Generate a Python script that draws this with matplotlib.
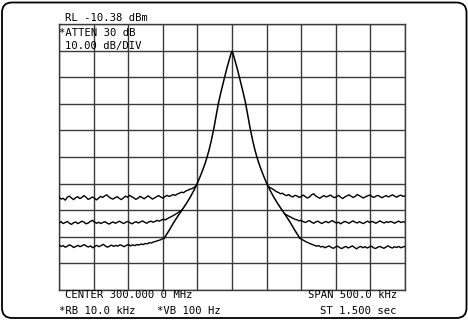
import numpy as np
import matplotlib
matplotlib.use("Agg")
import matplotlib.pyplot as plt
from matplotlib.patches import FancyBboxPatch

# ---------------------------------------------------------------------------
# data (frequency offset from 300 MHz centre in kHz, level in dBm)
# ---------------------------------------------------------------------------
ref_level = -10.38
db_per_div = 10.0
span_khz = 500.0

# resonance response (common to all three traces)
peak_khz = [-98, -90, -84, -78, -72, -66, -60, -55, -50, -46, -42.5, -39,
            -36, -33, -30, -26.5, -23, -19.5, -16, -13, -10.5, -8, -6, -4.5,
            -3, -2, -1, 0, 1, 2, 3, 4.5, 6, 8, 10.5, 13, 16, 19.5, 23, 26.5,
            30, 33, 36, 39, 42.5, 46, 50, 55, 60, 66, 72, 78, 84, 90, 98]
peak_dbm = [-90.9, -87.6, -84.9, -82.5, -80.2, -77.9, -75.3, -72.9, -70.2,
            -67.7, -65.4, -62.9, -60.4, -57.6, -54.3, -50.0, -45.0, -40.0,
            -36.0, -32.8, -30.2, -27.6, -25.7, -24.3, -22.9, -22.0, -21.2,
            -20.6, -21.2, -22.0, -22.9, -24.3, -25.7, -27.6, -30.2, -32.8,
            -36.0, -40.0, -45.0, -50.0, -54.3, -57.6, -60.4, -62.9, -65.4,
            -67.7, -70.2, -72.9, -75.3, -77.9, -80.2, -82.5, -84.9, -87.6,
            -90.9]

# noise floors, each as (start kHz, end kHz, levels)
top_left = (-250, -52, [
    -75.4, -76.2, -75.9, -76.6, -75.5, -75.1, -75.8, -76.4, -75.7, -75.3,
    -76.0, -75.6, -74.9, -75.5, -76.3, -76.0, -75.4, -75.8, -76.5, -75.9,
    -75.2, -75.6, -75.0, -74.6, -75.4, -75.9, -76.2, -75.7, -75.3, -75.9,
    -76.4, -75.8, -75.1, -75.5, -74.8, -75.3, -75.7, -76.3, -75.9, -75.2,
    -75.6, -76.1, -75.5, -75.0, -75.6, -76.2, -75.8, -75.3, -74.9, -75.4,
    -75.8, -75.3, -74.8, -75.2, -74.9, -74.5, -74.8, -74.3, -74.0, -73.6,
    -73.8, -73.2, -72.9, -72.5, -72.3, -71.8, -71.3])
top_right = (52, 250, [
    -71.3, -71.9, -72.3, -72.8, -73.4, -73.7, -74.2, -74.0, -74.6, -74.9,
    -74.5, -75.1, -75.4, -74.8, -75.0, -75.6, -75.2, -74.7, -75.3, -75.8,
    -75.4, -74.6, -74.2, -75.0, -75.5, -75.9, -75.3, -74.9, -75.4, -75.1,
    -74.7, -75.2, -75.7, -75.3, -74.8, -75.5, -76.0, -75.4, -75.0, -74.6,
    -75.1, -75.6, -75.2, -74.5, -74.9, -75.4, -75.8, -75.3, -75.0, -74.7,
    -75.2, -75.6, -75.1, -74.8, -75.3, -75.7, -75.2, -74.9, -75.4, -75.0,
    -74.6, -75.1, -75.5, -75.0, -74.7, -75.2, -75.0])
mid_left = (-250, -72, [
    -85.2, -84.7, -85.4, -85.0, -84.6, -85.3, -85.7, -85.1, -84.8, -85.4,
    -85.0, -84.5, -84.9, -85.5, -85.2, -84.6, -84.2, -84.8, -85.3, -84.9,
    -85.4, -85.0, -84.7, -85.2, -85.6, -85.1, -84.8, -85.3, -84.9, -84.5,
    -85.0, -85.4, -84.9, -84.6, -85.1, -85.5, -85.0, -84.7, -85.2, -84.8,
    -84.4, -84.9, -85.3, -84.8, -84.5, -84.9, -84.6, -84.2, -84.5, -84.1,
    -83.8, -84.0, -83.5, -83.1, -82.7, -82.3, -81.8, -81.3, -80.8, -80.2])
mid_right = (76, 250, [
    -81.7, -82.2, -82.6, -83.0, -83.4, -83.8, -84.0, -84.4, -84.2, -84.7,
    -85.0, -84.6, -84.3, -84.9, -85.3, -84.8, -84.5, -85.0, -85.4, -84.9,
    -84.6, -85.1, -84.7, -84.3, -84.8, -85.2, -84.9, -85.5, -85.0, -84.6,
    -84.9, -85.3, -84.8, -84.4, -84.9, -85.2, -84.7, -85.1, -85.4, -84.9,
    -84.5, -85.0, -84.6, -84.9, -85.3, -84.8, -84.4, -84.9, -85.2, -84.7,
    -85.0, -84.6, -84.9, -85.3, -84.8, -84.5, -85.0, -84.7, -84.9])
bot_left = (-250, -98, [
    -93.5, -94.0, -93.7, -94.3, -93.9, -93.4, -93.8, -94.4, -94.0, -93.6,
    -94.1, -93.7, -93.3, -93.9, -94.2, -93.8, -94.5, -94.0, -93.6, -94.1,
    -93.7, -93.2, -93.8, -94.3, -93.9, -93.5, -94.0, -93.6, -93.9, -93.4,
    -93.7, -94.1, -93.6, -93.3, -93.8, -93.4, -93.7, -93.3, -93.5, -93.1,
    -93.3, -92.9, -93.0, -92.6, -92.7, -92.3, -92.1, -91.8, -91.6, -91.2,
    -90.9])
bot_right = (98, 250, [
    -90.9, -91.4, -91.8, -92.3, -92.6, -93.0, -93.3, -93.6, -93.9, -93.7,
    -94.2, -94.0, -94.5, -94.1, -93.8, -94.4, -94.7, -94.2, -93.9, -94.5,
    -94.8, -94.3, -94.0, -94.6, -94.2, -93.8, -94.4, -94.9, -94.3, -94.0,
    -94.5, -94.1, -94.6, -94.2, -93.9, -94.5, -94.8, -94.3, -94.0, -94.4,
    -94.7, -94.2, -93.8, -94.3, -94.6, -94.1, -94.4, -94.0, -94.5, -94.2,
    -94.0])
floor_segments = [top_left, top_right, mid_left, mid_right, bot_left, bot_right]

header_lines = ["RL -10.38 dBm", "*ATTEN 30 dB", "10.00 dB/DIV"]
footer_left = ["CENTER 300.000 0 MHz", "*RB 10.0 kHz"]
footer_mid = "*VB 100 Hz"
footer_right = ["SPAN 500.0 kHz", "ST 1.500 sec"]

# ---------------------------------------------------------------------------
W, H = 468, 320
fig = plt.figure(figsize=(W / 100, H / 100), dpi=100)


def fx(px):
    return px / W


def fy(py):
    return 1 - py / H


ax = fig.add_axes([fx(59), fy(290), fx(405) - fx(59), fy(24) - fy(290)])
ax.set_xlim(-span_khz / 2, span_khz / 2)
ax.set_ylim(ref_level - 10 * db_per_div, ref_level)
ax.set_xticks(np.linspace(-span_khz / 2, span_khz / 2, 11))
ax.set_yticks(np.linspace(ref_level - 10 * db_per_div, ref_level, 11))
ax.tick_params(length=0, labelbottom=False, labelleft=False)
ax.grid(True, color="#3a3a3a", lw=1.0)
for sp in ax.spines.values():
    sp.set_color("#3a3a3a")
    sp.set_linewidth(1.0)

ax.plot(peak_khz, peak_dbm, color="black", lw=1.1, zorder=3)
for start, end, vals in floor_segments:
    ax.plot(np.linspace(start, end, len(vals)), vals, color="black", lw=1.0,
            zorder=3)

mono = dict(family="DejaVu Sans Mono", fontsize=7.6, color="black",
            va="baseline")
fig.text(fx(65), fy(21), header_lines[0], **mono)
fig.text(fx(59), fy(36), header_lines[1], **mono)
fig.text(fx(65), fy(49), header_lines[2], **mono)
fig.text(fx(65), fy(298.5), footer_left[0], **mono)
fig.text(fx(59), fy(314), footer_left[1], **mono)
fig.text(fx(157), fy(314), footer_mid, **mono)
fig.text(fx(397), fy(298.5), footer_right[0], ha="right", **mono)
fig.text(fx(397), fy(314), footer_right[1], ha="right", **mono)

# rounded outer frame (inches)
frame = FancyBboxPatch((0.02, 0.02), 4.645, 3.155,
                       boxstyle="round,pad=0,rounding_size=0.1",
                       transform=fig.dpi_scale_trans, fill=False,
                       edgecolor="black", lw=1.3)
fig.patches.append(frame)

fig.savefig("out.png", dpi=100)
